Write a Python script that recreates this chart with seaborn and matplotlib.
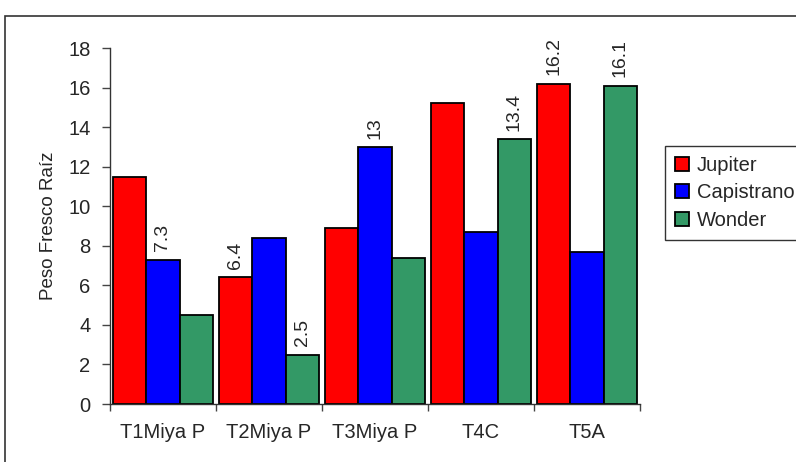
import matplotlib
matplotlib.use("Agg")
import matplotlib.pyplot as plt
from matplotlib.patches import Rectangle
import seaborn as sns
import pandas as pd

categories = ["T1Miya P", "T2Miya P", "T3Miya P", "T4C", "T5A"]
jupiter = [11.5, 6.4, 8.9, 15.2, 16.2]
capistrano = [7.3, 8.4, 13.0, 8.7, 7.7]
wonder = [4.5, 2.5, 7.4, 13.4, 16.1]
series_names = ["Jupiter", "Capistrano", "Wonder"]
colors = ["#FF0000", "#0000FF", "#339966"]
# values printed above selected bars ('' = no label)
shown_labels = {
    "Jupiter": ["", "6.4", "", "", "16.2"],
    "Capistrano": ["7.3", "", "13", "", ""],
    "Wonder": ["", "2.5", "", "13.4", "16.1"],
}
y_ticks = [0, 2, 4, 6, 8, 10, 12, 14, 16, 18]

sns.set_style("white")
plt.rcParams["font.family"] = ["Liberation Sans", "DejaVu Sans"]
FS = 14

df = pd.DataFrame({
    "cat": categories * 3,
    "serie": sum([[s] * len(categories) for s in series_names], []),
    "val": jupiter + capistrano + wonder,
})

fig = plt.figure(figsize=(7.96, 4.62), dpi=100)
ax = fig.add_axes([110 / 796, 58 / 462, 530 / 796, 356 / 462])

sns.barplot(data=df, x="cat", y="val", hue="serie", order=categories,
            hue_order=series_names, palette=colors, width=0.945, gap=0,
            edgecolor="black", linewidth=1.3, saturation=1, ax=ax)

for cont, name in zip(ax.containers, series_names):
    ax.bar_label(cont, labels=shown_labels[name], rotation=90, padding=6,
                 fontsize=FS)

ax.set_ylim(0, 18)
ax.set_xlim(-0.5, len(categories) - 0.5)
ax.set_yticks(y_ticks)
ax.tick_params(axis="y", labelsize=FS + 0.5, length=6, width=1,
               direction="out", left=True, pad=8, color="#444444")
# tick marks at the category boundaries, labels at the centers
ax.set_xticks([i - 0.5 for i in range(len(categories) + 1)])
ax.set_xticklabels([])
ax.set_xticks(range(len(categories)), minor=True)
ax.set_xticklabels(categories, minor=True)
ax.tick_params(axis="x", which="major", length=5, width=1, bottom=True,
               color="#444444")
ax.tick_params(axis="x", which="minor", length=0, labelsize=FS + 0.5, pad=14)
ax.set_xlabel("")
ax.set_ylabel("Peso Fresco Raíz", fontsize=FS - 0.5)
ax.yaxis.set_label_coords(-0.100, 0.5)

for side in ["top", "right"]:
    ax.spines[side].set_visible(False)
for side in ["left", "bottom"]:
    ax.spines[side].set_color("#333333")
    ax.spines[side].set_linewidth(1)

handles, labels = ax.get_legend_handles_labels()
leg = ax.legend(handles, labels, loc="upper left",
                bbox_to_anchor=(1.047, 0.725), frameon=True, fancybox=False,
                shadow=False, edgecolor="black", fontsize=FS + 0.5,
                handlelength=0.7, handleheight=0.7, handletextpad=0.4,
                borderpad=0.5, labelspacing=0.42, borderaxespad=0)
leg.get_frame().set_linewidth(1)

# chart area frame
fig.patches.append(Rectangle((5 / 796, -0.1), 1.2, (462 - 16) / 462 + 0.1,
                             transform=fig.transFigure, fill=False,
                             edgecolor="#333333", linewidth=1.2))

fig.savefig("out.png", dpi=100)
